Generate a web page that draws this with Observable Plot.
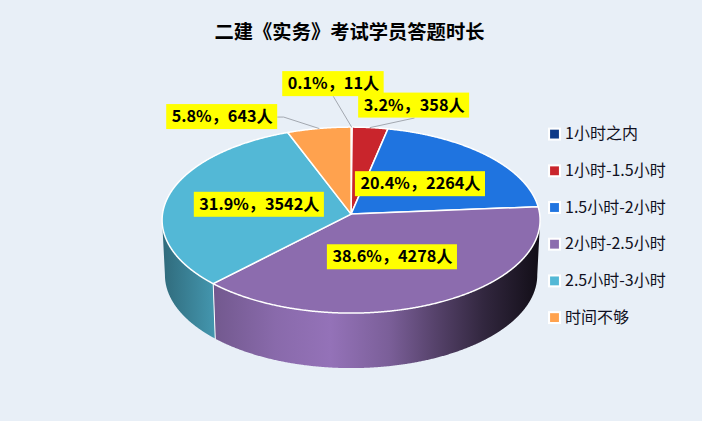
<!DOCTYPE html>
<html><head><meta charset="utf-8">
<script src="https://cdn.jsdelivr.net/npm/d3@7"></script>
<script src="https://cdn.jsdelivr.net/npm/@observablehq/plot@0.6"></script>
<style>html,body{margin:0;padding:0;background:#e8eff7;overflow:hidden}svg{display:block;background:#e8eff7}</style>
</head><body><div id="c"></div>
<script>
const title = "二建《实务》考试学员答题时长";
const categories = ["1小时之内","1小时-1.5小时","1.5小时-2小时","2小时-2.5小时","2.5小时-3小时","时间不够"];
const counts = [11,358,2264,4278,3542,643];
const percents = ["0.1%","3.2%","20.4%","38.6%","31.9%","5.8%"];
const colors = ["#0f3a87","#c9252c","#1f74e0","#8c6cae","#53b8d6","#ffa24e"];

const FONT = '"Noto Sans CJK SC","Noto Sans",sans-serif';
const W=702,H=421, CX=350.6,CY=213.6, RX=188.6,RY=92.6, TILT=0.0645, DEPTH=55/RY, BOTTOM=0.985;
// outside labels: offset of label centre from the slice's rim point (px); null = inside at r=.5
const outerOffset = [[-18.2,-43],[44,-22],null,null,null,[-96.8,-11.4]];
const labelFont = 16.2, labelPad = 5, labelH = 25;

const ctx = document.createElement("canvas").getContext("2d");
ctx.font = `bold ${labelFont}px ${FONT}`;
const project = (r,t) => { const u=r*Math.sin(t), v=-r*Math.cos(t), k=1/(1-TILT*v); return [u*k, v*k]; };
const arcs = d3.pie().sort(null).value(d=>d)(counts);
const span = (a0,a1,step=0.005) => { const n=Math.max(2,Math.ceil((a1-a0)/step)); return d3.range(n+1).map(i=>a0+(a1-a0)*i/n); };

// the rim is only visible between the two silhouette angles
const silR = Math.acos(-TILT), silL = 2*Math.PI-silR;
const tops = arcs.map((a,i)=>({i,pts:[[0,0],...span(a.startAngle,a.endAngle).map(t=>project(1,t))]}));
const sides = arcs.flatMap((a,i)=>{ const a0=Math.max(a.startAngle,silR), a1=Math.min(a.endAngle,silL);
  if(a1<=a0) return [];
  const ts=span(a0,a1), up=ts.map(t=>project(1,t));
  const lo=ts.map(t=>{const [x,y]=project(1,t);return [x*BOTTOM,y+DEPTH];}).reverse();
  return [{i,pts:[...up,...lo]}]; });
const seams = arcs.flatMap((a,i)=>{ const t=a.startAngle; if(t<=silR||t>=silL) return [];
  const [x,y]=project(1,t); return [{i,pts:[[x,y],[x*BOTTOM,y+DEPTH]]}]; });

const labels = arcs.map((a,i)=>{ const mid=(a.startAngle+a.endAngle)/2, off=outerOffset[i];
  const rim=project(1,mid); const c=off?[rim[0]+off[0]/RX,rim[1]+off[1]/RY]:project(.5,mid);
  const text=`${percents[i]}，${counts[i]}人`; const w=ctx.measureText(text).width+2*labelPad;
  return {i,text,cx:c[0],cy:c[1],w,rim,off,x1:c[0]-w/2/RX,x2:c[0]+w/2/RX,y1:c[1]-labelH/2/RY,y2:c[1]+labelH/2/RY}; });
const leaders = labels.filter(l=>l.off).map(l=>{
  if(Math.abs(l.off[0])>60) return [l.rim,[l.x2+6/RX,l.cy],[l.x2,l.cy]];
  return [l.rim,[l.cx,l.y2]]; });

// shading of the rim: factor by horizontal position across the pie
const shade = [[0,.58],[.14,.82],[.3,.98],[.445,1.06],[.6,.88],[.72,.62],[.85,.36],[1,.13]];
const gid = i=>`side${i}`;
const defs = () => { const ns="http://www.w3.org/2000/svg", g=document.createElementNS(ns,"defs");
  colors.forEach((c,i)=>{ const lg=document.createElementNS(ns,"linearGradient");
    lg.setAttribute("id",gid(i)); lg.setAttribute("gradientUnits","userSpaceOnUse");
    lg.setAttribute("x1",CX-RX); lg.setAttribute("x2",CX+RX); lg.setAttribute("y1",0); lg.setAttribute("y2",0);
    const rgb=d3.rgb(c);
    shade.forEach(([o,f])=>{const s=document.createElementNS(ns,"stop"); s.setAttribute("offset",o);
      s.setAttribute("stop-color",d3.rgb(Math.min(255,rgb.r*f),Math.min(255,rgb.g*f),Math.min(255,rgb.b*f)).formatHex()); lg.appendChild(s);});
    g.appendChild(lg); });
  return g; };

const lx = px => (px-CX)/RX, ly = py => (py-CY)/RY;
const legendRows = categories.map((name,i)=>({name,i,x:lx(554),tx:lx(564.5),y:ly(133.6+36.7*i)}));

const marks = [
  defs,
  ...sides.map(s=>Plot.line(s.pts,{x:d=>d[0],y:d=>d[1],fill:`url(#${gid(s.i)})`,stroke:"none",curve:"linear-closed"})),
  ...seams.map(s=>Plot.line(s.pts,{x:d=>d[0],y:d=>d[1],stroke:"#fff",strokeWidth:1})),
  ...tops.map(s=>Plot.line(s.pts,{x:d=>d[0],y:d=>d[1],fill:colors[s.i],stroke:"#fff",strokeWidth:1.5,curve:"linear-closed"})),
  ...leaders.map(p=>Plot.line(p,{x:d=>d[0],y:d=>d[1],stroke:"#a3a8b0",strokeWidth:1})),
  Plot.rect(labels,{x1:"x1",x2:"x2",y1:"y1",y2:"y2",fill:"#ffff00"}),
  Plot.text(labels,{x:"cx",y:"cy",text:"text",fill:"#000",fontSize:labelFont,fontWeight:"bold",fontFamily:FONT,textAnchor:"middle",lineAnchor:"middle"}),
  Plot.text([title],{x:lx(349),y:ly(32),text:d=>d,fill:"#000",fontSize:19.3,fontWeight:"bold",fontFamily:FONT,textAnchor:"middle",lineAnchor:"middle"}),
  Plot.dot(legendRows,{x:"x",y:"y",symbol:"square",r:7.3,fill:"#fff"}),
  Plot.dot(legendRows,{x:"x",y:"y",symbol:"square",r:5,fill:d=>colors[d.i]}),
  Plot.text(legendRows,{x:"tx",y:"y",text:"name",fill:"#111122",fontSize:16,fontFamily:FONT,textAnchor:"start",lineAnchor:"middle"})
];
const chart = Plot.plot({width:W,height:H,margin:0,
  x:{domain:[-1,1],range:[CX-RX,CX+RX],axis:null},
  y:{domain:[-1,1],range:[CY-RY,CY+RY],axis:null},
  style:{background:"#e8eff7",overflow:"hidden"},
  marks});
document.getElementById("c").appendChild(chart);
</script></body></html>
